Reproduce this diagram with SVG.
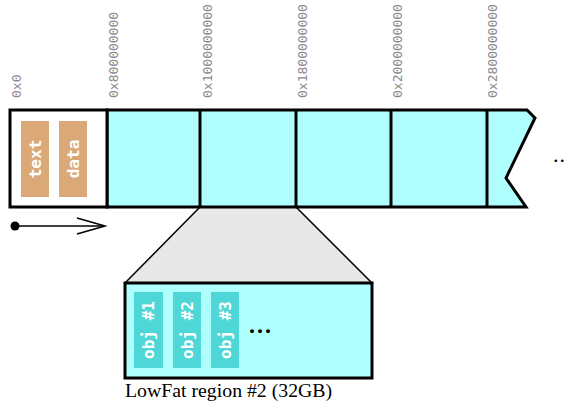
<svg xmlns="http://www.w3.org/2000/svg" width="568" height="401" viewBox="0 0 568 401">
<style>
.addr{font-family:"DejaVu Sans Mono","Liberation Mono",monospace;font-size:13px;fill:#8a8a8a}
.seg{fill:#b0ffff;stroke:#000;stroke-width:3}
.lbl{font-family:"DejaVu Sans Mono","Liberation Mono",monospace;font-size:16px;font-weight:bold;fill:#fff;text-anchor:middle;dominant-baseline:central}
.tan{fill:#dba877}
.obj{fill:#4fd6d6}
</style>
<rect width="568" height="401" fill="#fff"/>
<g id="addresses">
<text class="addr" transform="translate(20.5,98) rotate(-90)">0x0</text>
<text class="addr" transform="translate(118,98) rotate(-90)">0x800000000</text>
<text class="addr" transform="translate(212,98) rotate(-90)">0x1000000000</text>
<text class="addr" transform="translate(307,98) rotate(-90)">0x1800000000</text>
<text class="addr" transform="translate(402,98) rotate(-90)">0x2000000000</text>
<text class="addr" transform="translate(497,98) rotate(-90)">0x2800000000</text>
</g>
<g id="zoom">
<polygon points="200,207 296,207 372,283 125,283" fill="#e8e8e8" stroke="#000" stroke-width="1.5"/>
</g>
<g id="bar">
<path class="seg" d="M107,110 H527 L535,118 L506,178 L526,207 H107 Z"/>
<line x1="200" y1="110" x2="200" y2="207" stroke="#000" stroke-width="3"/>
<line x1="296" y1="110" x2="296" y2="207" stroke="#000" stroke-width="3"/>
<line x1="391" y1="110" x2="391" y2="207" stroke="#000" stroke-width="3"/>
<line x1="487" y1="110" x2="487" y2="207" stroke="#000" stroke-width="3"/>
<rect x="10" y="110" width="97" height="97" fill="#fff" stroke="#000" stroke-width="3"/>
<text x="553" y="162" font-family="Liberation Serif,serif" font-size="22" letter-spacing="1" fill="#000">..</text>
</g>
<g id="text">
<rect class="tan" x="21" y="121" width="28" height="76"/>
<text class="lbl" transform="translate(35,159) rotate(-90)">text</text>
</g>
<g id="data">
<rect class="tan" x="59" y="121" width="28" height="76"/>
<text class="lbl" transform="translate(73,159) rotate(-90)">data</text>
</g>
<g id="connectors">
<circle cx="15" cy="226" r="4.5" fill="#000"/>
<line x1="15" y1="226" x2="104" y2="226" stroke="#000" stroke-width="1.5"/>
<polyline points="77,218 105,226 77,234" fill="none" stroke="#000" stroke-width="1.5"/>
</g>
<g id="region">
<rect x="125" y="283" width="247" height="95" fill="#b0ffff" stroke="#000" stroke-width="3"/>
<rect class="obj" x="134" y="292" width="29" height="76"/>
<text class="lbl" transform="translate(148.5,330) rotate(-90)">obj #1</text>
<rect class="obj" x="173" y="292" width="28" height="76"/>
<text class="lbl" transform="translate(187,330) rotate(-90)">obj #2</text>
<rect class="obj" x="211" y="292" width="28" height="76"/>
<text class="lbl" transform="translate(225,330) rotate(-90)">obj #3</text>
<text x="249" y="333" font-family="Liberation Serif,serif" font-size="24" font-weight="bold" letter-spacing="2" fill="#000">...</text>
<text x="125" y="397" font-family="Liberation Serif,serif" font-size="19.8" fill="#000">LowFat region #2 (32GB)</text>
</g>
</svg>
